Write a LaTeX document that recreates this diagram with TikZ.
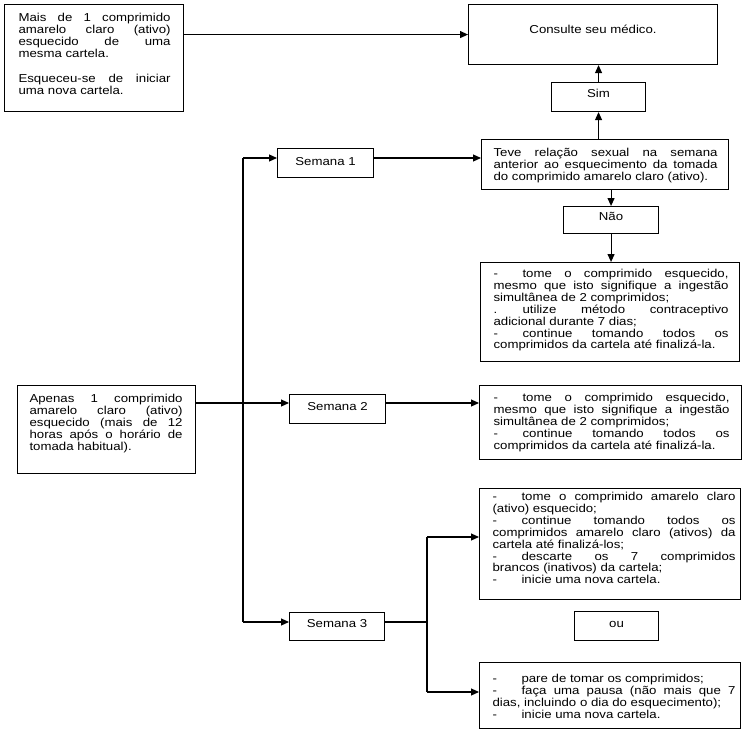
\documentclass[tikz,border=0pt]{standalone}
\usepackage{fontspec}
\setmainfont[FakeStretch=1.15]{Liberation Sans}
\usetikzlibrary{arrows.meta}
\newcommand\tb[1]{\makebox[29pt][l]{#1}}
% #1 width, #2 height, #3 left skip, #4 right skip, #5 first baseline, #6 text
\newcommand\bt[6]{\parbox[c][#2pt][t]{#1pt}{\tolerance=10000\hbadness=10000\pretolerance=-1\leftskip=#3pt\rightskip=#4pt\relax\rule{0pt}{#5pt}\ignorespaces#6}}
\newcommand\ct[4]{\parbox[c][#2pt][t]{#1pt}{\centering\rule{0pt}{#3pt}\ignorespaces#4}}
\begin{document}
\begin{tikzpicture}[x=1pt,y=-1pt,
  box/.style={draw=black,line width=1.1pt,inner sep=0pt,anchor=north west,
    font=\fontsize{11.5pt}{11.9pt}\selectfont},
  arr/.style={draw=black,line width=1.1pt,-{Triangle[length=8pt,width=7pt]}},
  ln/.style={draw=black,line width=1.1pt}]
\useasboundingbox[fill=white] (0,0) rectangle (745,745);

\node[box] (A) at (4,4) {\bt{179}{107}{14}{13}{17}{Mais de 1 comprimido\linebreak amarelo claro (ativo)\linebreak esquecido de uma\linebreak mesma cartela.\par\vspace{13pt}Esqueceu-se de iniciar\linebreak uma nova cartela.}};

\node[box] (Cons) at (468,4) {\ct{249}{60}{29}{Consulte seu médico.}};
\node[box] (Sim) at (551,82) {\ct{94}{29}{15}{Sim}};
\node[box] (Teve) at (481,139) {\bt{247}{50}{12}{11}{17}{Teve relação sexual na semana\linebreak anterior ao esquecimento da tomada\linebreak do comprimido amarelo claro (ativo).}};
\node[box] (Nao) at (563,206) {\ct{95}{27}{14}{Não}};
\node[box] (B) at (480,262) {\bt{259}{99}{13}{11}{15}{\tb{-}tome o comprimido esquecido,\linebreak mesmo que isto signifique a ingestão\linebreak simultânea de 2 comprimidos;\\\tb{.}utilize método contraceptivo\linebreak adicional durante 7 dias;\\\tb{-}continue tomando todos os\linebreak \mbox{comprimidos da cartela até finalizá-la.}}};

\node[box] (S1) at (277,148) {\ct{96}{29}{17}{Semana 1}};
\node[box] (Ap) at (17,385) {\bt{178}{88}{12}{13}{17}{Apenas 1 comprimido\linebreak amarelo claro (ativo)\linebreak esquecido (mais de 12\linebreak horas após o horário de\linebreak tomada habitual).}};
\node[box] (S2) at (289,394) {\ct{96}{29}{16}{Semana 2}};
\node[box] (C) at (479,385) {\bt{262}{74}{14}{12}{16}{\tb{-}tome o comprimido esquecido,\linebreak mesmo que isto signifique a ingestão\linebreak simultânea de 2 comprimidos;\\\tb{-}continue tomando todos os\linebreak \mbox{comprimidos da cartela até finalizá-la.}}};

\node[box] (D) at (479,488) {\bt{261}{111}{13}{5}{12}{\tb{-}tome o comprimido amarelo claro\linebreak (ativo) esquecido;\\\tb{-}continue tomando todos os\linebreak comprimidos amarelo claro (ativos) da\linebreak cartela até finalizá-los;\\\tb{-}descarte os 7 comprimidos\linebreak brancos (inativos) da cartela;\\\tb{-}inicie uma nova cartela.}};
\node[box] (ou) at (574,611) {\ct{84}{29}{16}{ou}};
\node[box] (F) at (479,662) {\bt{261}{66}{13}{5}{20}{\tb{-}pare de tomar os comprimidos;\\\tb{-}faça uma pausa (não mais que 7\linebreak dias, incluindo o dia do esquecimento);\\\tb{-}inicie uma nova cartela.}};
\node[box] (S3) at (289,612) {\ct{95}{28}{15}{Semana 3}};

\coordinate (s1) at (243,158);
\coordinate (s2) at (243,403);
\coordinate (s3) at (243,622);
\coordinate (t1) at (427,537);
\coordinate (t2) at (427,692);
\coordinate (t3) at (427,622);

\draw[arr] (A.east |- Cons.west) -- (Cons.west);
\draw[arr] (Teve.north -| Sim.south) -- (Sim.south);
\draw[arr] (Sim.north) -- (Cons.south -| Sim.north);
\draw[arr] (Teve.south -| Nao.north) -- (Nao.north);
\draw[arr] (Nao.south) -- (B.north -| Nao.south);

\draw[ln] (s1) -- (s3);
\draw[arr] (s1) -- (S1.west |- s1);
\draw[arr] (S1.east |- s1) -- (Teve.west |- s1);
\draw[arr] (Ap.east |- s2) -- (S2.west |- s2);
\draw[arr] (S2.east |- s2) -- (C.west |- s2);
\draw[arr] (s3) -- (S3.west |- s3);
\draw[ln] (S3.east |- s3) -- (t3);
\draw[ln] (t1) -- (t2);
\draw[arr] (t1) -- (D.west |- t1);
\draw[arr] (t2) -- (F.west |- t2);
\end{tikzpicture}
\end{document}
